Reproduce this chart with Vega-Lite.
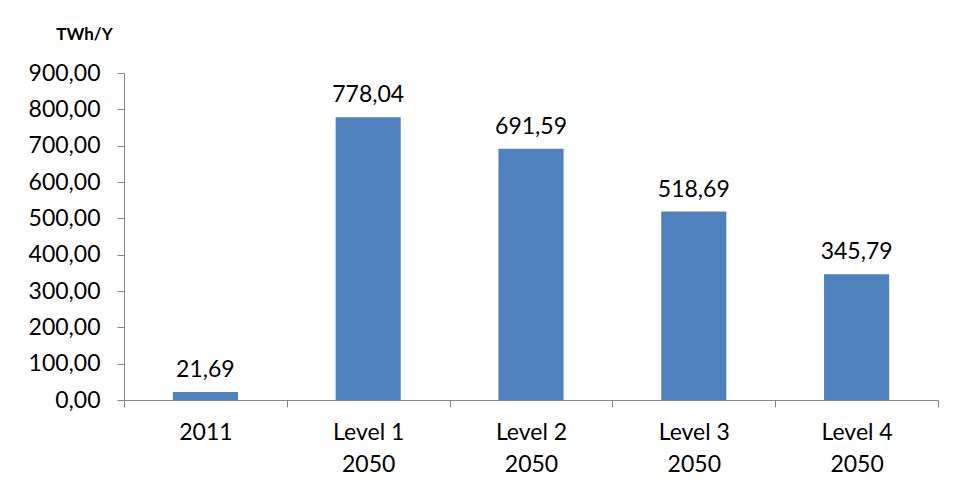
{
  "$schema": "https://vega.github.io/schema/vega-lite/v6.json",
  "autosize": {"type": "none"},
  "width": 814,
  "height": 327,
  "padding": {"left": 124, "top": 73, "right": 19, "bottom": 95},
  "background": "white",
  "config": {
    "locale": {"number": {"decimal": ",", "thousands": ".", "grouping": [3], "currency": ["", " €"]}},
    "font": "Lato",
    "view": {"stroke": null},
    "axis": {"grid": false, "domainColor": "#868686", "tickColor": "#868686", "labelColor": "#000000", "labelFont": "Lato", "labelFontSize": 23, "tickSize": 7}
  },
  "data": {
    "values": [
      {"category": "2011", "value": 21.69},
      {"category": "Level 1|2050", "value": 778.04},
      {"category": "Level 2|2050", "value": 691.59},
      {"category": "Level 3|2050", "value": 518.69},
      {"category": "Level 4|2050", "value": 345.79}
    ]
  },
  "encoding": {
    "x": {
      "field": "category", "type": "nominal", "sort": null,
      "scale": {"paddingInner": 0, "paddingOuter": 0},
      "axis": {"title": null, "labelAngle": 0, "tickBand": "extent", "labelExpr": "split(datum.label, '|')", "labelLineHeight": 32, "labelPadding": 14, "labelBaseline": "top"}
    },
    "y": {
      "field": "value", "type": "quantitative",
      "scale": {"domain": [0, 900]},
      "axis": {"values": [0, 100, 200, 300, 400, 500, 600, 700, 800, 900], "format": ".2f", "labelPadding": 17, "title": "TWh/Y", "titleAngle": 0, "titleX": -40, "titleY": -34, "titleAlign": "center", "titleBaseline": "alphabetic", "titleFont": "Lato", "titleFontSize": 17, "titleFontWeight": "bold", "titleColor": "#000000"}
    }
  },
  "layer": [
    {"mark": {"type": "bar", "color": "#4F81BD", "width": {"band": 0.4}}},
    {"mark": {"type": "text", "baseline": "bottom", "dy": -10, "fontSize": 23, "font": "Lato", "color": "#000000"},
     "encoding": {"text": {"field": "value", "type": "quantitative", "format": ".2f"}}}
  ]
}
